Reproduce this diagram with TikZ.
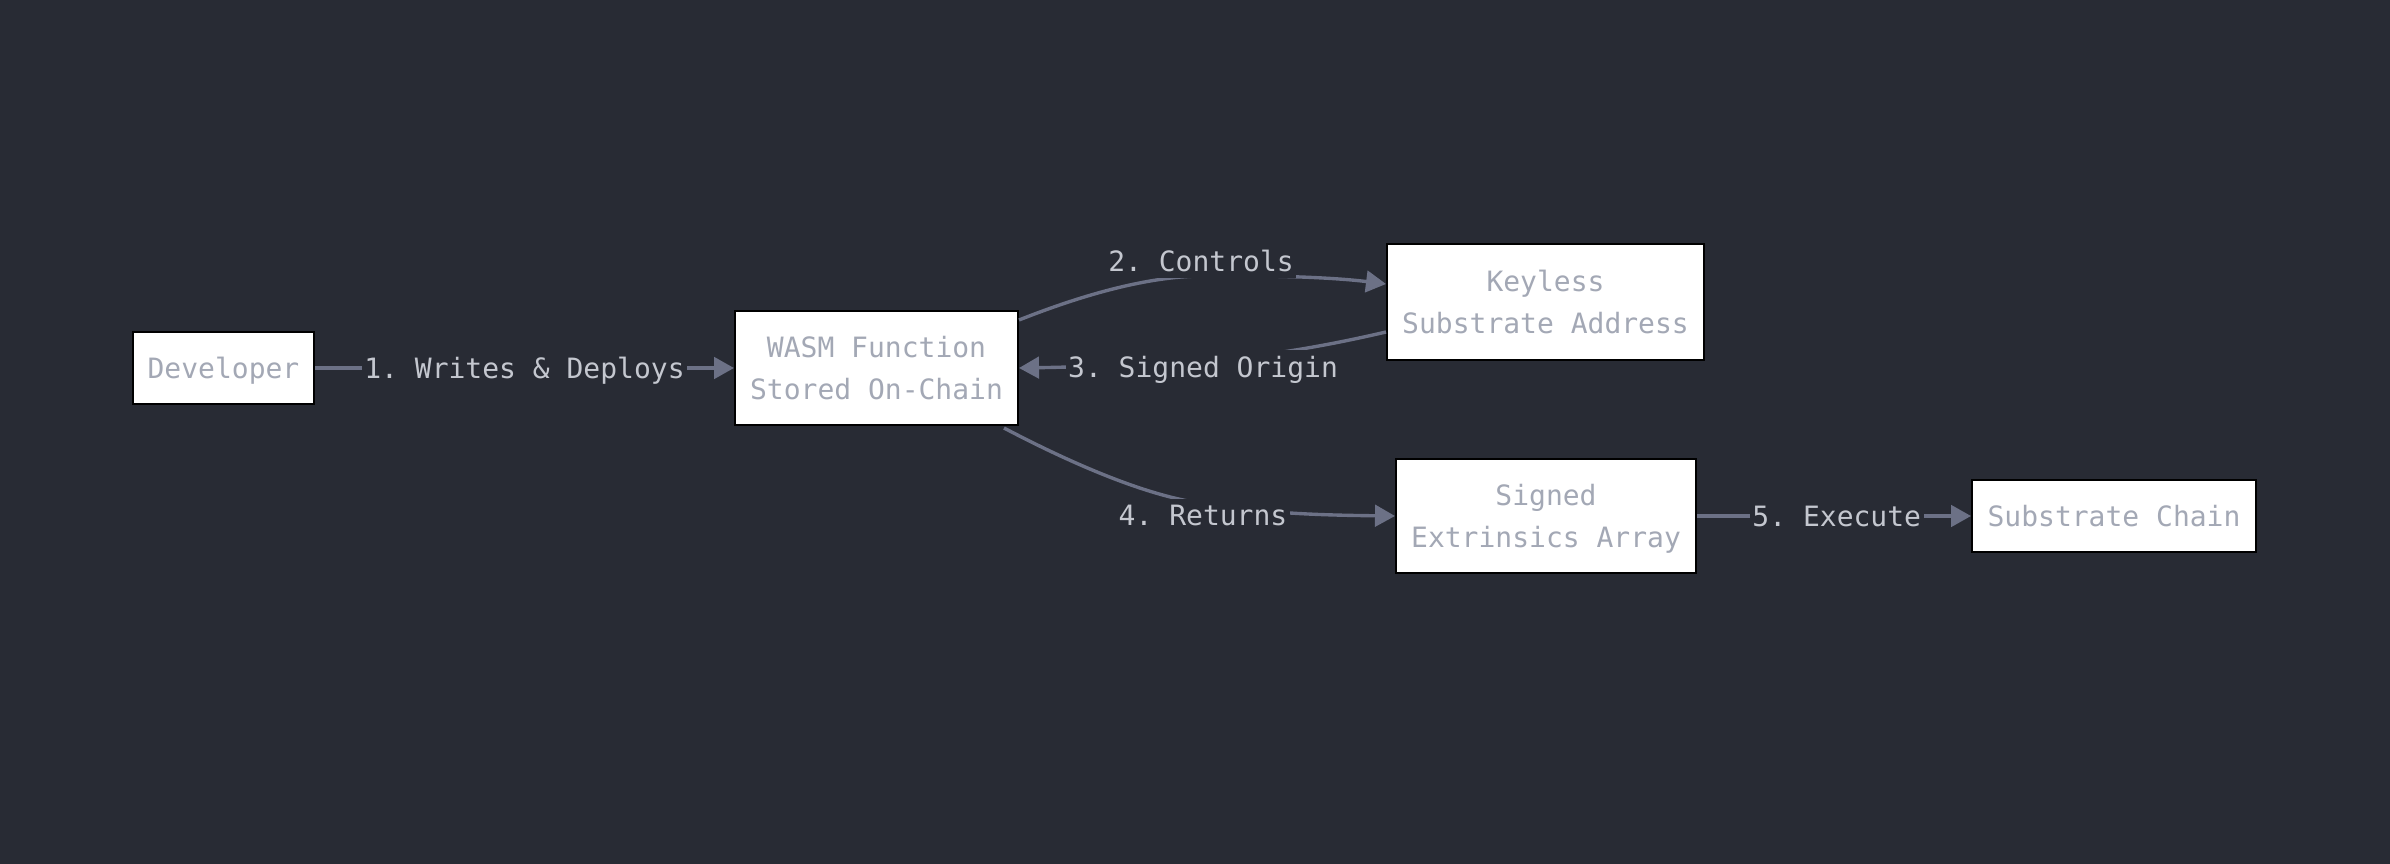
\documentclass[tikz,border=0pt]{standalone}
\usepackage{fontspec}
\setmonofont{DejaVu Sans Mono}
\usetikzlibrary{arrows.meta,calc}
\definecolor{bg}{HTML}{282B34}
\definecolor{edgec}{HTML}{6C7186}
\definecolor{boxtext}{HTML}{A3A8B5}
\definecolor{labtext}{HTML}{C4C7CF}
\tikzset{
  box/.style={draw=black, line width=0.8pt, fill=white, text=boxtext, align=center,
    font=\ttfamily\fontsize{11.2}{17}\selectfont, inner sep=0pt},
  nodepth/.style={text depth=0pt},
  conn/.style={draw=edgec, line width=1.35pt, -{Triangle[length=8pt,width=8.6pt]}},
  lab/.style={fill=bg, text=labtext, font=\ttfamily\fontsize{11.2}{17}\selectfont,
    inner xsep=1pt, inner ysep=2.5pt, text depth=0pt}
}
\begin{document}
\begin{tikzpicture}[x=0.4pt,y=-0.4pt]
\fill[bg] (0,0) rectangle (2390,864);
\useasboundingbox (0,0) rectangle (2390,864);
\node[box, nodepth, minimum width=181*0.4pt, minimum height=72*0.4pt] (dev) at (223.5,368) {Developer};
\node[box, minimum width=283*0.4pt, minimum height=114*0.4pt] (wasm) at (876.5,368) {WASM Function\\Stored On-Chain};
\node[box, minimum width=317*0.4pt, minimum height=116*0.4pt] (key) at (1545.5,302) {Keyless\\Substrate Address};
\node[box, nodepth, minimum width=300*0.4pt, minimum height=114*0.4pt] (sig) at (1546,516) {Signed\\Extrinsics Array};
\node[box, nodepth, minimum width=284*0.4pt, minimum height=72*0.4pt] (chain) at (2114,516) {Substrate Chain};

\draw[conn] (dev.east) -- node[lab, pos=0.5]{1. Writes \& Deploys} (wasm.west);
\draw[conn] ($(wasm.north east)+(0,10)$) .. controls (1090,292) and (1150,277) ..
  (1200,276) .. controls (1260,275) and (1330,277) .. ($(key.west)+(0,-18)$);
\node[lab] (l2) at (1201,261) {2. Controls};
\draw[conn] ($(key.west)+(0,30)$) .. controls (1330,345) and (1270,356) ..
  (1203,361) .. controls (1130,365) and (1080,367) .. (wasm.east);
\node[lab] (l3) at (1203,367) {3. Signed Origin};
\draw[conn] ($(wasm.south east)+(-15,2)$) .. controls (1080,468) and (1150,496) ..
  (1200,503) .. controls (1265,513) and (1310,515) .. (sig.west);
\node[lab] (l4) at (1203,515) {4. Returns};
\draw[conn] (sig.east) -- node[lab, pos=0.51]{5. Execute} (chain.west);
\end{tikzpicture}
\end{document}
